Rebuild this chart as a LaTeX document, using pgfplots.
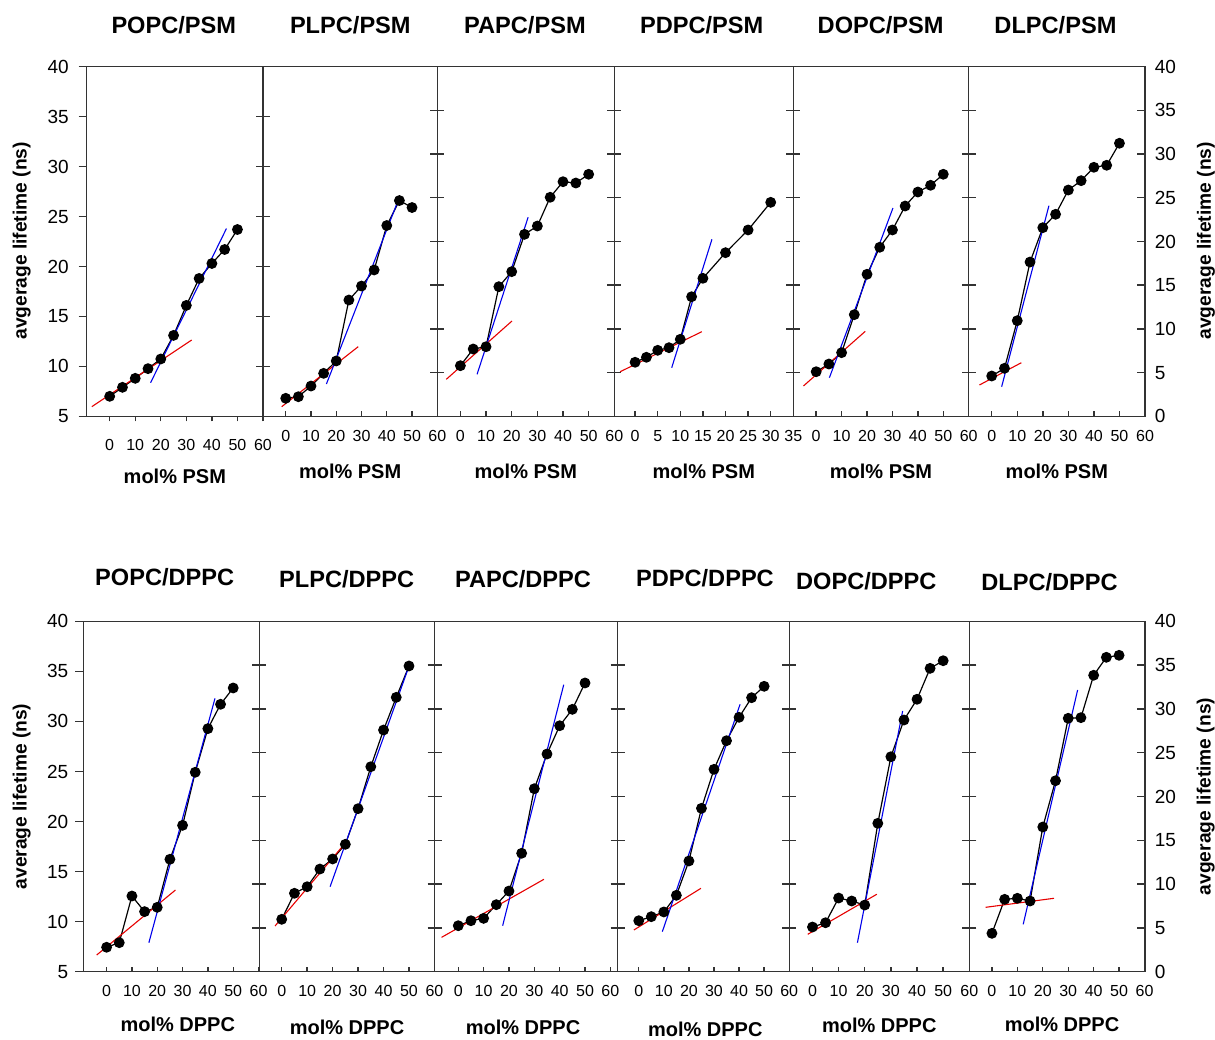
\documentclass[border=0pt]{standalone}
\usepackage{fontspec}
\setmainfont{Liberation Sans}
\usepackage{pgfplots}
\pgfplotsset{compat=1.18}
\definecolor{axgray}{gray}{0.2}
\definecolor{fitred}{RGB}{230,0,0}
\definecolor{fitblue}{RGB}{0,0,235}
\pgfplotsset{
 base/.style={scale only axis, anchor=south west,
   /pgf/number format/assume math mode=true,
   axis line style={axgray, line width=0.7pt},
   every tick/.style={axgray, line width=0.7pt},
   xtick=\empty,
   yticklabel style={font=\fontsize{9.5}{11}\selectfont},
   every axis title/.style={font=\bfseries\fontsize{11.8}{13}\selectfont, anchor=center},
   every axis x label/.style={font=\bfseries\fontsize{10}{12}\selectfont, anchor=center},
   every axis y label/.style={font=\bfseries\fontsize{9.6}{11}\selectfont, anchor=center, rotate=90},
 },
 top/.style={base, height=174.8pt},
 bot/.style={base, height=175.2pt},
 s540/.style={ymin=5, ymax=40, ytick={5,10,...,40}},
 s040/.style={ymin=0, ymax=40, ytick={0,5,...,40}},
 inner/.style={tick align=center, major tick length=7pt, yticklabel=\empty, ytick pos=left},
 firstp/.style={tick align=outside, major tick length=4pt, ytick pos=left},
 lastp/.style={s040, tick align=inside, major tick length=4pt, ytick pos=right, yticklabel pos=right, yticklabel style={xshift=1.4pt}},
 xt/.style={scale only axis, anchor=south west, /pgf/number format/assume math mode=true,
   axis line style={draw=none}, ymin=0, ymax=1, ytick=\empty,
   tick align=inside, major tick length=2.5pt, xtick pos=bottom,
   every tick/.style={axgray, line width=0.7pt},
   xticklabel style={font=\fontsize{8}{9}\selectfont, anchor=center}},
 dat/.style={black, line width=0.6pt, mark=*, mark size=2.4pt, mark options={fill=black, solid}},
 fr/.style={fitred, line width=0.55pt, no marks},
 fb/.style={fitblue, line width=0.55pt, no marks},
}
\begin{document}
\begin{tikzpicture}
\path[use as bounding box] (0,0) rectangle (607.5pt,519.5pt);

%================ TOP ROW =================
% 1 POPC/PSM
\begin{axis}[top, at={(43.35pt,311.35pt)}, width=88.15pt, xmin=-9, xmax=60, s540, firstp,
  yticklabel style={xshift=-1.5pt},
  title={POPC/PSM}, title style={at={(axis description cs:0.494,1.1193)}},
  xlabel={mol\% PSM}, xlabel style={at={(axis description cs:0.5,-0.1708)}},
  ylabel={avgerage lifetime (ns)}, ylabel style={at={(axis description cs:-0.3687,0.502)}}]
\addplot[dat] coordinates {(0,7.0)(5,7.9)(10,8.8)(15,9.77)(20,10.74)(25,13.1)(30,16.1)(35,18.8)(40,20.3)(45,21.7)(50,23.7)};
\addplot[fr] coordinates {(-7.0,5.96)(32.1,12.64)};
\addplot[fb] coordinates {(16.0,8.36)(45.7,23.8)};
\end{axis}
\begin{axis}[xt, height=174.8pt, at={(43.35pt,311.35pt)}, width=88.15pt, xmin=-9, xmax=60, xtick={0,10,...,60}, tick align=outside, xticklabel style={yshift=-11.8pt}]
\end{axis}

% 2 PLPC/PSM
\begin{axis}[top, at={(131.5pt,311.35pt)}, width=87.15pt, xmin=-9, xmax=60, s540, inner,
  title={PLPC/PSM}, title style={at={(axis description cs:0.501,1.1193)}},
  xlabel={mol\% PSM}, xlabel style={at={(axis description cs:0.5,-0.1565)}}]
\addplot[dat] coordinates {(0,6.8)(5,6.96)(10,8.03)(15,9.3)(20,10.54)(25,16.64)(30,18.04)(35,19.65)(40,24.1)(45,26.6)(50,25.9)};
\addplot[fr] coordinates {(-1.6,5.96)(28.7,11.97)};
\addplot[fb] coordinates {(16.1,8.23)(44.8,26.8)};
\end{axis}
\begin{axis}[xt, height=174.8pt, at={(131.5pt,311.35pt)}, width=87.15pt, xmin=-9, xmax=60, xtick={0,10,...,60}, xticklabel style={yshift=-9.7pt}]
\end{axis}

% 3 PAPC/PSM
\begin{axis}[top, at={(218.65pt,311.35pt)}, width=88.5pt, xmin=-9, xmax=60, s040, inner,
  title={PAPC/PSM}, title style={at={(axis description cs:0.495,1.1193)}},
  xlabel={mol\% PSM}, xlabel style={at={(axis description cs:0.5,-0.1565)}}]
\addplot[dat] coordinates {(0,5.79)(5,7.70)(10,7.96)(15,14.83)(20,16.55)(25,20.82)(30,21.77)(35,25.06)(40,26.84)(45,26.69)(50,27.69)};
\addplot[fr] coordinates {(-5.5,4.23)(20.1,10.9)};
\addplot[fb] coordinates {(6.5,4.8)(26.4,22.77)};
\end{axis}
\begin{axis}[xt, height=174.8pt, at={(218.65pt,311.35pt)}, width=88.5pt, xmin=-9, xmax=60, xtick={0,10,...,60}, xticklabel style={yshift=-9.7pt}]
\end{axis}

% 4 PDPC/PSM
\begin{axis}[top, at={(307.15pt,311.35pt)}, width=89.5pt, xmin=-4.6, xmax=35, s040, inner,
  title={PDPC/PSM}, title style={at={(axis description cs:0.488,1.1193)}},
  xlabel={mol\% PSM}, xlabel style={at={(axis description cs:0.5,-0.1565)}}]
\addplot[dat] coordinates {(0,6.18)(2.5,6.75)(5,7.55)(7.5,7.85)(10,8.81)(12.5,13.68)(15,15.79)(20,18.72)(25,21.32)(30,24.48)};
\addplot[fr] coordinates {(-3.3,5.1)(14.75,9.68)};
\addplot[fb] coordinates {(8.1,5.56)(17.0,20.25)};
\end{axis}
\begin{axis}[xt, height=174.8pt, at={(307.15pt,311.35pt)}, width=89.5pt, xmin=-4.6, xmax=35, xtick={0,5,...,35}, xticklabel style={yshift=-9.7pt}]
\end{axis}

% 5 DOPC/PSM
\begin{axis}[top, at={(396.65pt,311.35pt)}, width=87.7pt, xmin=-9, xmax=60, s040, inner, ytick pos=both,
  title={DOPC/PSM}, title style={at={(axis description cs:0.498,1.1193)}},
  xlabel={mol\% PSM}, xlabel style={at={(axis description cs:0.5,-0.1565)}}]
\addplot[dat] coordinates {(0,5.1)(5,5.98)(10,7.28)(15,11.63)(20,16.25)(25,19.34)(30,21.32)(35,24.06)(40,25.66)(45,26.43)(50,27.69)};
\addplot[fr] coordinates {(-5.0,3.47)(19.3,9.72)};
\addplot[fb] coordinates {(5.2,4.42)(30.2,23.83)};
\end{axis}
\begin{axis}[xt, height=174.8pt, at={(396.65pt,311.35pt)}, width=87.7pt, xmin=-9, xmax=60, xtick={0,10,...,60}, xticklabel style={yshift=-9.7pt}]
\end{axis}

% 6 DLPC/PSM
\begin{axis}[top, at={(484.35pt,311.35pt)}, width=88.15pt, xmin=-9, xmax=60, lastp,
  title={DLPC/PSM}, title style={at={(axis description cs:0.492,1.1193)}},
  xlabel={mol\% PSM}, xlabel style={at={(axis description cs:0.5,-0.1565)}},
  ylabel={avgerage lifetime (ns)}, ylabel style={at={(axis description cs:1.345,0.502)}}]
\addplot[dat] coordinates {(0,4.61)(5,5.49)(10,10.94)(15,17.65)(20,21.58)(25,23.11)(30,25.89)(35,26.96)(40,28.49)(45,28.72)(50,31.24)};
\addplot[fr] coordinates {(-4.8,3.58)(11.6,6.13)};
\addplot[fb] coordinates {(3.9,3.39)(22.4,24.1)};
\end{axis}
\begin{axis}[xt, height=174.8pt, at={(484.35pt,311.35pt)}, width=88.15pt, xmin=-9, xmax=60, xtick={0,10,...,60}, xticklabel style={yshift=-9.7pt}]
\end{axis}

%================ BOTTOM ROW =================
% 1 POPC/DPPC
\begin{axis}[bot, at={(41.65pt,33.65pt)}, width=88pt, xmin=-9.2, xmax=60.3, s540, firstp,
  title={POPC/DPPC}, title style={at={(axis description cs:0.4625,1.1273)}},
  xlabel={mol\% DPPC}, xlabel style={at={(axis description cs:0.537,-0.1498)}},
  ylabel={average lifetime (ns)}, ylabel style={at={(axis description cs:-0.35,0.5)}}]
\addplot[dat] coordinates {(0,7.44)(5,7.9)(10,12.56)(15,11.0)(20,11.43)(25,16.23)(30,19.62)(35,24.92)(40,29.28)(45,31.71)(50,33.34)};
\addplot[fr] coordinates {(-3.9,6.67)(27.2,13.16)};
\addplot[fb] coordinates {(16.7,7.9)(42.8,32.3)};
\end{axis}
\begin{axis}[xt, height=175.2pt, at={(41.65pt,33.65pt)}, width=88pt, xmin=-9.2, xmax=60.3, xtick={0,10,...,60}, xticklabel style={yshift=-9.6pt}]
\end{axis}

% 2 PLPC/DPPC
\begin{axis}[bot, at={(129.65pt,33.65pt)}, width=87.7pt, xmin=-8.8, xmax=60.1, s040, inner,
  title={PLPC/DPPC}, title style={at={(axis description cs:0.498,1.1207)}},
  xlabel={mol\% DPPC}, xlabel style={at={(axis description cs:0.5,-0.1592)}}]
\addplot[dat] coordinates {(0,5.98)(5,8.95)(10,9.70)(15,11.72)(20,12.87)(25,14.54)(30,18.61)(35,23.4)(40,27.59)(45,31.32)(50,34.9)};
\addplot[fr] coordinates {(-2.6,5.22)(24.9,14.66)};
\addplot[fb] coordinates {(19,9.7)(49.7,34.63)};
\end{axis}
\begin{axis}[xt, height=175.2pt, at={(129.65pt,33.65pt)}, width=87.7pt, xmin=-8.8, xmax=60.1, xtick={0,10,...,60}, xticklabel style={yshift=-9.5pt}]
\end{axis}

% 3 PAPC/DPPC
\begin{axis}[bot, at={(217.35pt,33.65pt)}, width=91.5pt, xmin=-9.3, xmax=62.9, s040, inner,
  title={PAPC/DPPC}, title style={at={(axis description cs:0.4825,1.1216)}},
  xlabel={mol\% DPPC}, xlabel style={at={(axis description cs:0.4825,-0.1592)}}]
\addplot[dat] coordinates {(0,5.25)(5,5.82)(10,6.09)(15,7.65)(20,9.21)(25,13.52)(30,20.89)(35,24.85)(40,28.08)(45,29.95)(50,32.96)};
\addplot[fr] coordinates {(-6.6,3.92)(33.8,10.55)};
\addplot[fb] coordinates {(17.5,5.25)(41.6,32.76)};
\end{axis}
\begin{axis}[xt, height=175.2pt, at={(217.35pt,33.65pt)}, width=91.5pt, xmin=-9.3, xmax=62.9, xtick={0,10,...,60}, xticklabel style={yshift=-9.5pt}]
\end{axis}

% 4 PDPC/DPPC
\begin{axis}[bot, at={(308.85pt,33.65pt)}, width=85.75pt, xmin=-8.4, xmax=60, s040, inner,
  title={PDPC/DPPC}, title style={at={(axis description cs:0.5087,1.1221)}},
  xlabel={mol\% DPPC}, xlabel style={at={(axis description cs:0.5105,-0.1644)}}]
\addplot[dat] coordinates {(0,5.82)(5,6.28)(10,6.82)(15,8.72)(20,12.64)(25,18.65)(30,23.1)(35,26.37)(40,29.04)(45,31.28)(50,32.58)};
\addplot[fr] coordinates {(-1.95,4.76)(24.8,9.52)};
\addplot[fb] coordinates {(9.4,4.57)(40.4,30.52)};
\end{axis}
\begin{axis}[xt, height=175.2pt, at={(308.85pt,33.65pt)}, width=85.75pt, xmin=-8.4, xmax=60, xtick={0,10,...,60}, xticklabel style={yshift=-9.5pt}]
\end{axis}

% 5 DOPC/DPPC
\begin{axis}[bot, at={(394.6pt,33.65pt)}, width=90.05pt, xmin=-8.9, xmax=60, s040, inner, ytick pos=both,
  title={DOPC/DPPC}, title style={at={(axis description cs:0.428,1.1142)}},
  xlabel={mol\% DPPC}, xlabel style={at={(axis description cs:0.5,-0.1544)}}]
\addplot[dat] coordinates {(0,5.10)(5,5.59)(10,8.41)(15,8.07)(20,7.61)(25,16.94)(30,24.54)(35,28.73)(40,31.1)(45,34.63)(50,35.5)};
\addplot[fr] coordinates {(-1.8,4.27)(24.6,8.84)};
\addplot[fb] coordinates {(17.2,3.31)(34.5,29.76)};
\end{axis}
\begin{axis}[xt, height=175.2pt, at={(394.6pt,33.65pt)}, width=90.05pt, xmin=-8.9, xmax=60, xtick={0,10,...,60}, xticklabel style={yshift=-9.5pt}]
\end{axis}

% 6 DLPC/DPPC
\begin{axis}[bot, at={(484.65pt,33.65pt)}, width=87.85pt, xmin=-8.9, xmax=60.2, lastp,
  title={DLPC/DPPC}, title style={at={(axis description cs:0.4565,1.1113)}},
  xlabel={mol\% DPPC}, xlabel style={at={(axis description cs:0.5276,-0.1498)}},
  ylabel={avgerage lifetime (ns)}, ylabel style={at={(axis description cs:1.346,0.5)}}]
\addplot[dat] coordinates {(0,4.38)(5,8.26)(10,8.38)(15,8.07)(20,16.52)(25,21.8)(30,28.93)(35,29.0)(40,33.84)(45,35.89)(50,36.12)};
\addplot[fr] coordinates {(-2.5,7.35)(24.4,8.38)};
\addplot[fb] coordinates {(12.3,5.41)(33.7,32.16)};
\end{axis}
\begin{axis}[xt, height=175.2pt, at={(484.65pt,33.65pt)}, width=87.85pt, xmin=-8.9, xmax=60.2, xtick={0,10,...,60}, xticklabel style={yshift=-9.5pt}]
\end{axis}

\end{tikzpicture}
\end{document}
